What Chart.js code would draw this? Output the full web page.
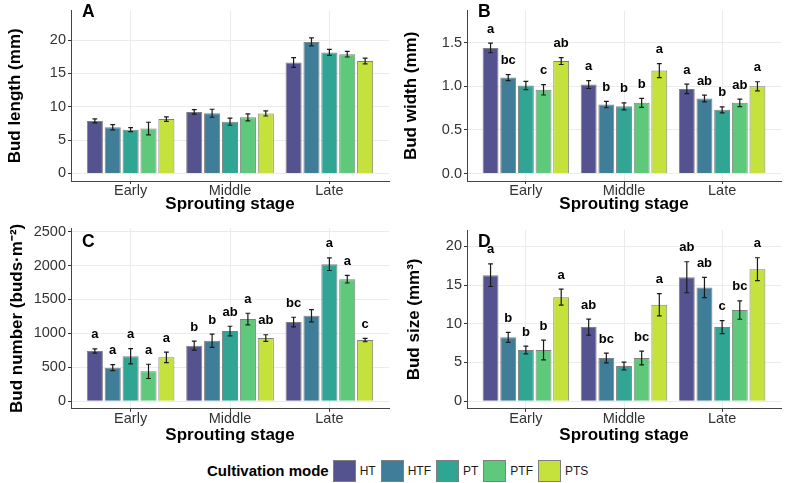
<!DOCTYPE html>
<html>
<head>
<meta charset="utf-8">
<script src="https://cdn.jsdelivr.net/npm/chart.js@4.4.1/dist/chart.umd.min.js"></script>
<style>
  body { margin: 0; background: #fff; width: 787px; height: 483px; position: relative; overflow: hidden;
         font-family: "Liberation Sans", Arial, sans-serif; }
  canvas { position: absolute; }
  #legend { position: absolute; left: 207px; top: 459px; height: 23px; display: flex; align-items: center; }
  #legend .ttl { font-weight: bold; font-size: 15px; margin-right: 4px; }
  #legend .key { width: 21px; height: 20px; border: 1px solid #7f7f7f; }
  #legend .lab { font-size: 12px; margin: 0 5px 0 4px; color: #1a1a1a; }
</style>
</head>
<body>
<canvas id="pA"></canvas>
<canvas id="pB"></canvas>
<canvas id="pC"></canvas>
<canvas id="pD"></canvas>
<div id="legend"></div>

<script>
// categories
const stages = ['Early', 'Middle', 'Late'];
const modes = ['HT', 'HTF', 'PT', 'PTF', 'PTS'];
const modeColors = ['#54528f', '#3f7d98', '#31a594', '#5ec97a', '#c4e23b'];

// A - bud length (mm), rows = modes, cols = stages
const lengthMean = [[7.87, 9.22, 16.64], [6.92, 9.02, 19.72], [6.56, 7.76, 18.14], [6.72, 8.41, 17.88], [8.14, 8.99, 16.86]];
const lengthSe   = [[0.30, 0.33, 0.73], [0.38, 0.60, 0.61], [0.30, 0.54, 0.45], [0.95, 0.52, 0.42], [0.33, 0.38, 0.42]];
const lengthTicks = [0, 5, 10, 15, 20];

// B - bud width (mm)
const widthMean = [[1.44, 1.02, 0.97], [1.10, 0.79, 0.86], [1.01, 0.77, 0.73], [0.96, 0.81, 0.81], [1.29, 1.18, 1.00]];
const widthSe   = [[0.055, 0.045, 0.054], [0.035, 0.036, 0.038], [0.047, 0.040, 0.034], [0.060, 0.052, 0.043], [0.040, 0.080, 0.052]];
const widthLetters = [['a', 'a', 'a'], ['bc', 'b', 'ab'], ['', 'b', 'b'], ['c', 'b', 'ab'], ['ab', 'a', 'a']];
const widthTicks = [0, 0.5, 1, 1.5];
const widthTickLabels = ['0.0', '0.5', '1.0', '1.5'];

// C - bud number (buds per m2)
const numberMean = [[740, 819, 1167], [495, 892, 1260], [662, 1034, 2020], [440, 1211, 1799], [647, 931, 902]];
const numberSe   = [[32, 66, 71], [44, 98, 91], [113, 71, 93], [105, 86, 56], [78, 49, 25]];
const numberLetters = [['a', 'b', 'bc'], ['a', 'b', ''], ['a', 'ab', 'a'], ['a', 'a', 'a'], ['a', 'ab', 'c']];
const numberTicks = [0, 500, 1000, 1500, 2000, 2500];

// D - bud size (mm3)
const sizeMean = [[16.27, 9.57, 16.0], [8.24, 5.58, 14.68], [6.61, 4.55, 9.57], [6.61, 5.58, 11.76], [13.43, 12.45, 17.04]];
const sizeSe   = [[1.46, 1.03, 2.0], [0.64, 0.62, 1.3], [0.5, 0.5, 0.84], [1.27, 0.88, 1.18], [1.03, 1.44, 1.48]];
const sizeLetters = [['a', 'ab', 'ab'], ['b', 'bc', 'ab'], ['b', '', 'c'], ['b', 'bc', 'bc'], ['a', 'a', 'a']];
const sizeTicks = [0, 5, 10, 15, 20];

Chart.defaults.font.family = '"Liberation Sans", Arial, sans-serif';

// error bars, significance letters and the panel tag
const errbars = {
  id: 'errbars',
  afterDatasetsDraw(chart, args, opts) {
    const ctx = chart.ctx, y = chart.scales.y;
    ctx.save();
    ctx.strokeStyle = '#1a1a1a';
    ctx.lineWidth = 1.2;
    ctx.fillStyle = '#000';
    ctx.font = 'bold 13px "Liberation Sans", Arial, sans-serif';
    ctx.textAlign = 'center';
    ctx.textBaseline = 'alphabetic';
    chart.data.datasets.forEach((ds, i) => {
      chart.getDatasetMeta(i).data.forEach((bar, j) => {
        const m = ds.data[j].y, e = opts.se[i][j];
        const top = y.getPixelForValue(m + e), bot = y.getPixelForValue(m - e);
        ctx.beginPath();
        ctx.moveTo(bar.x, top); ctx.lineTo(bar.x, bot);
        ctx.moveTo(bar.x - 2.4, top); ctx.lineTo(bar.x + 2.4, top);
        ctx.moveTo(bar.x - 2.4, bot); ctx.lineTo(bar.x + 2.4, bot);
        ctx.stroke();
        if (opts.letters && opts.letters[i][j]) ctx.fillText(opts.letters[i][j], bar.x, top - 10.5);
      });
    });
    ctx.textAlign = 'left';
    ctx.font = 'bold 17.5px "Liberation Sans", Arial, sans-serif';
    ctx.fillText(opts.tag, chart.chartArea.left + 11, opts.tagY);
    ctx.restore();
  }
};

function panel(id, box, o) {
  const cv = document.getElementById(id);
  cv.width = box.w; cv.height = box.h;
  cv.style.left = box.x + 'px'; cv.style.top = box.y + 'px';
  return new Chart(cv, {
    type: 'bar',
    data: {
      datasets: modes.map((m, i) => ({
        label: m,
        data: stages.map((s, j) => ({ x: j + 1, y: o.mean[i][j] })),
        backgroundColor: modeColors[i],
        borderColor: '#808080',
        borderWidth: 1
      }))
    },
    options: {
      responsive: false,
      animation: false,
      layout: { padding: { top: box.pt, right: box.pr, left: 0, bottom: 0 } },
      datasets: { bar: { categoryPercentage: 0.9, barPercentage: 0.9 } },
      plugins: {
        legend: { display: false },
        tooltip: { enabled: false },
        errbars: { se: o.se, letters: o.letters, tag: o.tag, tagY: box.tagY }
      },
      scales: {
        x: {
          type: 'linear', min: 0.4, max: 3.6, offset: false,
          afterBuildTicks: s => { s.ticks = stages.map((_, j) => ({ value: j + 1 })); },
          afterFit: s => { s.height = box.xh; },
          ticks: { callback: v => stages[v - 1], font: { size: 14.5, lineHeight: 1 }, color: '#333',
                   padding: 0, maxRotation: 0, autoSkip: false },
          grid: { color: '#ebebeb', offset: false, tickLength: 3, tickColor: '#333' },
          border: { color: '#444' },
          title: { display: true, text: 'Sprouting stage', color: '#000', padding: 0,
                   font: { size: 17, weight: 'bold', lineHeight: 1.2 } }
        },
        y: {
          min: o.min, max: o.max,
          afterBuildTicks: s => { s.ticks = o.ticks.map(v => ({ value: v })); },
          afterFit: s => { s.width = box.yw; },
          ticks: { callback: (v, k) => (o.tickLabels ? o.tickLabels[k] : v), font: { size: 14.5 },
                   color: '#333', padding: 2 },
          grid: { color: '#ebebeb', tickLength: 3, tickColor: '#333' },
          border: { color: '#444' },
          title: { display: true, text: o.title, color: '#000', padding: { top: box.tp, bottom: 0 },
                   font: { size: 17, weight: 'bold', lineHeight: 1.2 } }
        }
      }
    },
    plugins: [errbars]
  });
}

panel('pA', { x: 0, y: 0, w: 393, h: 215, pt: 0, pr: 4, yw: 71, xh: 34, tp: 4.8, tagY: 17 },
  { mean: lengthMean, se: lengthSe, ticks: lengthTicks, min: -1.14, max: 24.4, title: 'Bud length (mm)', tag: 'A' });
panel('pB', { x: 390, y: 0, w: 397, h: 215, pt: 0, pr: 6, yw: 77, xh: 34, tp: 10.8, tagY: 17 },
  { mean: widthMean, se: widthSe, letters: widthLetters, ticks: widthTicks, tickLabels: widthTickLabels,
    min: -0.086, max: 1.867, title: 'Bud width (mm)', tag: 'B' });
panel('pC', { x: 0, y: 215, w: 393, h: 231.5, pt: 13, pr: 4, yw: 71, xh: 37.2, tp: 7.3, tagY: 32 },
  { mean: numberMean, se: numberSe, letters: numberLetters, ticks: numberTicks, min: -112, max: 2554,
    title: 'Bud number (buds\u00b7m\u207b\u00b2)', tag: 'C' });
panel('pD', { x: 390, y: 215, w: 397, h: 231.5, pt: 15, pr: 6, yw: 77, xh: 37.2, tp: 13.8, tagY: 32 },
  { mean: sizeMean, se: sizeSe, letters: sizeLetters, ticks: sizeTicks, min: -0.98, max: 22.1,
    title: 'Bud size (mm\u00b3)', tag: 'D' });

// legend
const lg = document.getElementById('legend');
lg.innerHTML = '<span class="ttl">Cultivation mode</span>' +
  modes.map((m, i) => `<span class="key" style="background:${modeColors[i]}"></span><span class="lab">${m}</span>`).join('');
</script>
</body>
</html>
